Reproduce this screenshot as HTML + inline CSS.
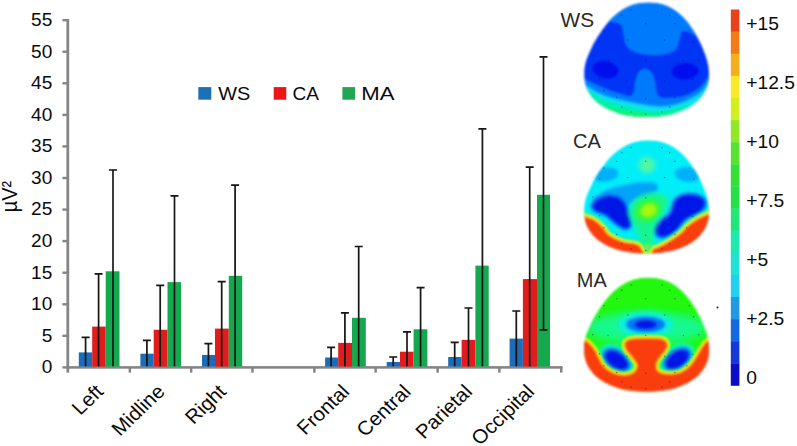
<!DOCTYPE html>
<html><head><meta charset="utf-8"><title>chart</title>
<style>html,body{margin:0;padding:0;background:#fff;}svg{display:block}text{font-family:"Liberation Sans",sans-serif;}</style>
</head><body>
<svg width="797" height="446" viewBox="0 0 797 446">
<rect width="797" height="446" fill="#fff"/>
<defs>
<clipPath id="hc"><path d="M1.8,0.0C6.6,0.0 11.8,0.7 16.2,2.0C20.7,3.3 24.7,5.5 28.4,8.0C32.1,10.5 35.5,13.6 38.5,16.8C41.5,20.1 44.1,23.9 46.5,27.5C48.9,31.1 51.0,34.8 52.8,38.5C54.7,42.2 56.4,46.4 57.8,50.0C59.2,53.6 60.2,56.7 61.0,60.0C61.8,63.3 62.2,66.8 62.3,70.0C62.4,73.2 62.2,76.0 61.6,79.0C61.0,82.0 60.2,84.9 58.5,88.0C56.8,91.1 54.4,94.7 51.5,97.5C48.6,100.3 45.0,102.8 41.0,105.0C37.0,107.2 32.2,109.1 27.5,110.5C22.8,111.9 17.6,112.7 13.0,113.3C8.4,113.9 4.3,114.0 0.0,114.0C-4.3,114.0 -8.4,113.9 -13.0,113.3C-17.6,112.7 -22.8,111.9 -27.5,110.5C-32.2,109.1 -37.0,107.2 -41.0,105.0C-45.0,102.8 -48.6,100.3 -51.5,97.5C-54.4,94.7 -56.8,91.1 -58.5,88.0C-60.2,84.9 -61.0,82.0 -61.6,79.0C-62.2,76.0 -62.4,73.2 -62.3,70.0C-62.2,66.8 -61.9,63.3 -61.0,60.0C-60.1,56.7 -58.8,53.6 -57.2,50.0C-55.6,46.4 -53.7,42.2 -51.6,38.5C-49.4,34.8 -47.1,31.1 -44.5,27.5C-41.9,23.9 -39.1,20.1 -35.9,16.8C-32.7,13.6 -29.1,10.5 -25.2,8.0C-21.4,5.5 -17.3,3.3 -12.8,2.0C-8.3,0.7 -3.0,0.0 1.8,0.0Z"/></clipPath>
<filter id="b05" x="-20%" y="-20%" width="140%" height="140%"><feGaussianBlur stdDeviation="0.5"/></filter>
<filter id="b1" x="-30%" y="-30%" width="160%" height="160%"><feGaussianBlur stdDeviation="1"/></filter>
<filter id="b15" x="-30%" y="-30%" width="160%" height="160%"><feGaussianBlur stdDeviation="1.5"/></filter>
<filter id="b2" x="-40%" y="-40%" width="180%" height="180%"><feGaussianBlur stdDeviation="2"/></filter>
<filter id="b3" x="-50%" y="-50%" width="200%" height="200%"><feGaussianBlur stdDeviation="3"/></filter>
<filter id="b4" x="-50%" y="-50%" width="200%" height="200%"><feGaussianBlur stdDeviation="4.5"/></filter>
<filter id="soft" x="-5%" y="-5%" width="110%" height="110%"><feGaussianBlur stdDeviation="0.6"/></filter>
<filter id="hsoft" x="-5%" y="-5%" width="110%" height="110%"><feGaussianBlur stdDeviation="0.9"/></filter>
</defs>
<g fill="#858585">
<rect x="66.4" y="19" width="2.8" height="353.6"/>
<rect x="66.4" y="366.1" width="496.2" height="2.6"/>
<rect x="62.4" y="366.2" width="5" height="2.4"/>
<rect x="62.4" y="334.6" width="5" height="2.4"/>
<rect x="62.4" y="303.1" width="5" height="2.4"/>
<rect x="62.4" y="271.5" width="5" height="2.4"/>
<rect x="62.4" y="239.9" width="5" height="2.4"/>
<rect x="62.4" y="208.4" width="5" height="2.4"/>
<rect x="62.4" y="176.8" width="5" height="2.4"/>
<rect x="62.4" y="145.2" width="5" height="2.4"/>
<rect x="62.4" y="113.7" width="5" height="2.4"/>
<rect x="62.4" y="82.1" width="5" height="2.4"/>
<rect x="62.4" y="50.5" width="5" height="2.4"/>
<rect x="62.4" y="19.0" width="5" height="2.4"/>
<rect x="128.6" y="367" width="2.5" height="5.6"/>
<rect x="189.9" y="367" width="2.5" height="5.6"/>
<rect x="251.2" y="367" width="2.5" height="5.6"/>
<rect x="313.1" y="367" width="2.5" height="5.6"/>
<rect x="374.4" y="367" width="2.5" height="5.6"/>
<rect x="436.4" y="367" width="2.5" height="5.6"/>
<rect x="498.1" y="367" width="2.5" height="5.6"/>
<rect x="560.0" y="367" width="2.5" height="5.6"/>
</g>
<g font-size="18" fill="#0a0a0a" text-anchor="end">
<text transform="translate(52.3,373.2) scale(1.06,1)" x="0" y="0">0</text>
<text transform="translate(52.3,341.6) scale(1.06,1)" x="0" y="0">5</text>
<text transform="translate(52.3,310.1) scale(1.06,1)" x="0" y="0">10</text>
<text transform="translate(52.3,278.5) scale(1.06,1)" x="0" y="0">15</text>
<text transform="translate(52.3,246.9) scale(1.06,1)" x="0" y="0">20</text>
<text transform="translate(52.3,215.4) scale(1.06,1)" x="0" y="0">25</text>
<text transform="translate(52.3,183.8) scale(1.06,1)" x="0" y="0">30</text>
<text transform="translate(52.3,152.2) scale(1.06,1)" x="0" y="0">35</text>
<text transform="translate(52.3,120.7) scale(1.06,1)" x="0" y="0">40</text>
<text transform="translate(52.3,89.1) scale(1.06,1)" x="0" y="0">45</text>
<text transform="translate(52.3,57.5) scale(1.06,1)" x="0" y="0">50</text>
<text transform="translate(52.3,26.0) scale(1.06,1)" x="0" y="0">55</text>
</g>
<text transform="translate(17.1,212.3) rotate(-90) scale(1.02,1.11)" font-size="19.5" fill="#0a0a0a">µV²</text>
<g filter="url(#soft)">
<rect x="78.8" y="352.4" width="13.4" height="14.2" fill="#1c6cb8"/>
<rect x="92.2" y="326.6" width="13.5" height="40.0" fill="#e01a1a"/>
<rect x="105.7" y="271.3" width="13.8" height="95.3" fill="#16a850"/>
<rect x="140.4" y="353.7" width="13.3" height="12.9" fill="#1c6cb8"/>
<rect x="153.7" y="329.8" width="13.8" height="36.8" fill="#e01a1a"/>
<rect x="167.5" y="282.1" width="13.6" height="84.5" fill="#16a850"/>
<rect x="202.0" y="355.0" width="13.0" height="11.6" fill="#1c6cb8"/>
<rect x="215.0" y="328.6" width="13.8" height="38.0" fill="#e01a1a"/>
<rect x="228.8" y="275.8" width="13.4" height="90.8" fill="#16a850"/>
<rect x="325.1" y="357.5" width="13.1" height="9.1" fill="#1c6cb8"/>
<rect x="338.2" y="342.9" width="13.8" height="23.7" fill="#e01a1a"/>
<rect x="352.0" y="317.8" width="13.8" height="48.8" fill="#16a850"/>
<rect x="386.7" y="362.0" width="13.3" height="4.6" fill="#1c6cb8"/>
<rect x="400.0" y="351.7" width="13.6" height="14.9" fill="#e01a1a"/>
<rect x="413.6" y="329.3" width="13.8" height="37.3" fill="#16a850"/>
<rect x="448.2" y="357.0" width="13.4" height="9.6" fill="#1c6cb8"/>
<rect x="461.6" y="339.9" width="13.8" height="26.7" fill="#e01a1a"/>
<rect x="475.4" y="265.6" width="13.3" height="101.0" fill="#16a850"/>
<rect x="509.6" y="338.6" width="13.3" height="28.0" fill="#1c6cb8"/>
<rect x="522.9" y="279.1" width="14.1" height="87.5" fill="#e01a1a"/>
<rect x="537.0" y="194.8" width="13.0" height="171.8" fill="#16a850"/>
</g>
<g stroke="#151515" stroke-width="1.7" fill="none" filter="url(#soft)">
<path d="M81.6,337.4H89.6M85.6,337.4V366.3"/>
<path d="M94.6,273.8H102.6M98.6,273.8V366.3"/>
<path d="M109.0,170.0H117.0M113.0,170.0V366.3"/>
<path d="M142.9,340.4H150.9M146.9,340.4V366.3"/>
<path d="M156.2,285.4H164.2M160.2,285.4V366.3"/>
<path d="M170.5,195.9H178.5M174.5,195.9V366.3"/>
<path d="M204.4,343.7H212.4M208.4,343.7V366.3"/>
<path d="M217.7,281.6H225.7M221.7,281.6V366.3"/>
<path d="M231.1,185.1H239.1M235.1,185.1V366.3"/>
<path d="M327.1,347.4H335.1M331.1,347.4V366.3"/>
<path d="M340.9,312.8H348.9M344.9,312.8V366.3"/>
<path d="M354.7,246.5H362.7M358.7,246.5V366.3"/>
<path d="M389.2,357.0H397.2M393.2,357.0V366.3"/>
<path d="M403.0,331.8H411.0M407.0,331.8V366.3"/>
<path d="M416.6,287.6H424.6M420.6,287.6V366.3"/>
<path d="M450.7,342.4H458.7M454.7,342.4V366.3"/>
<path d="M464.5,308.0H472.5M468.5,308.0V366.3"/>
<path d="M478.4,128.8H486.4M482.4,128.8V366.3"/>
<path d="M512.3,311.0H520.3M516.3,311.0V366.3"/>
<path d="M525.7,167.2H533.7M529.7,167.2V366.3"/>
<path d="M539.5,56.9H547.5M543.5,56.9V329.8M539.5,329.8H547.5"/>
</g>
<g font-size="19.7" fill="#0a0a0a" text-anchor="end">
<text transform="translate(104.6,392.8) scale(1.045,1) rotate(-45)">Left</text>
<text transform="translate(166.0,392.8) scale(1.045,1) rotate(-45)">Midline</text>
<text transform="translate(227.4,392.8) scale(1.045,1) rotate(-45)">Right</text>
<text transform="translate(350.6,392.8) scale(1.045,1) rotate(-45)">Frontal</text>
<text transform="translate(412.0,392.8) scale(1.045,1) rotate(-45)">Central</text>
<text transform="translate(473.4,392.8) scale(1.045,1) rotate(-45)">Parietal</text>
<text transform="translate(535.6,392.8) scale(1.045,1) rotate(-45)">Occipital</text>
</g>
<g filter="url(#soft)">
<rect x="198.3" y="87.1" width="13" height="12.6" fill="#1f70b8"/>
<rect x="273.7" y="87.1" width="12.6" height="12.6" fill="#ec1616"/>
<rect x="342.4" y="87.1" width="12.7" height="12.6" fill="#22a653"/>
</g>
<g font-size="18.8" fill="#0a0a0a">
<text x="218.2" y="100.3" textLength="32.0" lengthAdjust="spacingAndGlyphs">WS</text>
<text x="292.6" y="100.3" textLength="26.4" lengthAdjust="spacingAndGlyphs">CA</text>
<text x="361.3" y="100.3" textLength="33.2" lengthAdjust="spacingAndGlyphs">MA</text>
</g>
<g font-size="20" fill="#2a2a2a">
<text x="560.5" y="27.2" textLength="33.6" lengthAdjust="spacingAndGlyphs">WS</text>
<text x="573" y="148.2">CA</text>
<text x="576.8" y="287.3">MA</text>
</g>
<g transform="translate(646.6,2.6) scale(1.0008,1.0026)">
<g filter="url(#hsoft)"><g clip-path="url(#hc)">
<rect x="-70" y="-5" width="140" height="125" fill="#0434f6"/>
<g filter="url(#b05)">
<path d="M-48.0,-8.0C-28.3,-12.3 47.0,-15.7 66.0,-8.0C85.0,-0.3 68.5,31.0 66.0,38.0C63.5,45.0 54.9,35.4 51.0,34.0C47.1,32.6 45.2,30.4 42.6,29.5C40.0,28.6 37.1,27.3 35.5,28.5C33.9,29.7 33.9,33.5 32.8,36.6C31.7,39.7 31.4,44.5 29.0,46.9C26.6,49.3 23.2,50.4 18.7,51.2C14.1,52.1 7.1,52.4 1.7,52.0C-3.7,51.6 -10.0,50.3 -13.7,48.6C-17.4,46.9 -18.9,44.6 -20.5,41.8C-22.1,38.9 -22.2,34.8 -23.1,31.5C-24.0,28.2 -23.1,24.1 -25.6,22.0C-28.2,19.9 -34.0,19.4 -38.4,18.7C-42.8,18.0 -50.4,22.4 -52.0,18.0C-53.6,13.6 -67.7,-3.7 -48.0,-8.0Z" fill="#047afc"/>
<ellipse cx="-41" cy="67" rx="13" ry="8.8" fill="#020cee" transform="rotate(10 -41 67)"/>
<ellipse cx="38.5" cy="68.5" rx="13.5" ry="8.4" fill="#020cee" transform="rotate(-4 38.5 68.5)"/>
<path d="M-66.0,72.0C-64.7,63.8 -64.7,73.9 -62.0,75.6C-59.3,77.3 -54.3,79.9 -50.0,82.0C-45.7,84.1 -40.0,86.5 -36.0,88.0C-32.0,89.5 -29.5,90.1 -26.3,91.0C-23.1,91.9 -19.3,93.8 -17.0,93.5C-14.7,93.2 -13.4,91.2 -12.5,89.0C-11.6,86.8 -12.2,83.2 -11.5,80.0C-10.8,76.8 -9.6,72.3 -8.0,70.0C-6.4,67.7 -4.0,66.2 -1.8,66.2C0.4,66.2 3.3,67.7 5.0,70.0C6.7,72.3 7.7,76.7 8.5,80.0C9.3,83.3 9.1,87.6 10.0,90.0C10.9,92.4 12.0,93.6 14.0,94.5C16.0,95.4 17.9,95.5 22.1,95.2C26.3,94.9 34.1,94.4 39.2,92.7C44.3,91.0 49.4,87.8 52.9,85.0C56.4,82.2 58.0,78.6 60.5,75.6C63.0,72.6 66.4,58.8 68.0,67.0C69.6,75.2 93.0,115.3 70.0,125.0C47.0,134.7 -47.3,133.8 -70.0,125.0C-92.7,116.2 -67.3,80.2 -66.0,72.0Z" fill="#047afc"/>
</g>
<path d="M-68.0,76.0C-66.7,68.7 -64.7,79.0 -62.0,81.0C-59.3,83.0 -56.0,85.8 -52.0,88.0C-48.0,90.2 -42.3,92.5 -38.0,94.0C-33.7,95.5 -30.6,95.8 -26.3,96.8C-22.0,97.8 -16.5,99.1 -12.0,100.0C-7.5,100.9 -4.5,101.7 0.6,102.3C5.7,102.9 12.8,104.0 18.7,103.5C24.6,103.0 30.1,101.7 35.8,99.5C41.5,97.3 48.8,93.5 52.9,90.5C57.0,87.5 58.0,84.3 60.5,81.2C63.0,78.1 66.4,64.7 68.0,72.0C69.6,79.3 93.0,116.2 70.0,125.0C47.0,133.8 -47.0,133.2 -70.0,125.0C-93.0,116.8 -69.3,83.3 -68.0,76.0Z" fill="#10e0f8" filter="url(#b1)"/>
<path d="M-68.0,82.0C-66.3,75.6 -63.0,84.7 -60.0,86.5C-57.0,88.3 -53.7,91.0 -50.0,93.0C-46.3,95.0 -42.0,97.1 -38.0,98.5C-34.0,99.9 -30.6,100.4 -26.3,101.5C-22.0,102.6 -16.5,104.0 -12.0,105.0C-7.5,106.0 -3.7,107.0 0.6,107.5C4.9,108.0 9.4,108.3 14.0,108.0C18.6,107.7 23.7,106.5 28.0,105.5C32.3,104.5 36.3,102.2 40.0,102.0C43.7,101.8 50.0,100.2 50.0,104.0C50.0,107.8 60.0,121.5 40.0,125.0C20.0,128.5 -52.0,132.2 -70.0,125.0C-88.0,117.8 -69.7,88.4 -68.0,82.0Z" fill="#04f0b0" filter="url(#b1)"/>
<path d="M-66.0,90.0C-63.7,85.0 -59.3,93.1 -56.0,95.0C-52.7,96.9 -49.7,99.7 -46.0,101.5C-42.3,103.3 -38.0,104.8 -34.0,106.0C-30.0,107.2 -26.3,107.8 -22.0,108.5C-17.7,109.2 -12.7,110.0 -8.0,110.5C-3.3,111.0 1.7,111.7 6.0,111.8C10.3,111.9 14.3,111.7 18.0,111.3C21.7,110.9 25.0,110.1 28.0,109.6C31.0,109.0 33.3,107.4 36.0,108.0C38.7,108.6 45.0,110.2 44.0,113.0C43.0,115.8 49.0,123.0 30.0,125.0C11.0,127.0 -54.0,130.8 -70.0,125.0C-86.0,119.2 -68.3,95.0 -66.0,90.0Z" fill="#14f244" fill-opacity="0.85" filter="url(#b15)"/>
</g></g>
<g fill="#001040" fill-opacity="0.45"><circle cx="-15.4" cy="7.5" r="0.75"/><circle cx="15.4" cy="7.5" r="0.75"/><circle cx="-24.7" cy="12.6" r="0.75"/><circle cx="23.0" cy="12.6" r="0.75"/><circle cx="-29.9" cy="21.1" r="0.75"/><circle cx="-0.9" cy="21.1" r="0.75"/><circle cx="28.2" cy="21.1" r="0.75"/><circle cx="-42.7" cy="28.0" r="0.75"/><circle cx="42.7" cy="28.0" r="0.75"/><circle cx="-46.9" cy="39.0" r="0.75"/><circle cx="-18.8" cy="37.4" r="0.75"/><circle cx="17.9" cy="37.4" r="0.75"/><circle cx="46.9" cy="39.0" r="0.75"/><circle cx="-53.8" cy="57.0" r="0.75"/><circle cx="-38.4" cy="57.8" r="0.75"/><circle cx="-0.9" cy="57.8" r="0.75"/><circle cx="36.7" cy="57.8" r="0.75"/><circle cx="52.0" cy="57.0" r="0.75"/><circle cx="-46.9" cy="76.0" r="0.75"/><circle cx="-19.6" cy="78.5" r="0.75"/><circle cx="17.9" cy="78.5" r="0.75"/><circle cx="46.0" cy="76.8" r="0.75"/><circle cx="-42.7" cy="87.9" r="0.75"/><circle cx="-29.9" cy="94.7" r="0.75"/><circle cx="-0.9" cy="95.6" r="0.75"/><circle cx="28.2" cy="94.7" r="0.75"/><circle cx="40.0" cy="87.9" r="0.75"/><circle cx="-24.7" cy="104.1" r="0.75"/><circle cx="23.0" cy="104.1" r="0.75"/><circle cx="-15.4" cy="109.2" r="0.75"/><circle cx="-0.9" cy="111.0" r="0.75"/><circle cx="15.4" cy="109.2" r="0.75"/></g>
</g>
<g transform="translate(646.6,140.2) scale(1.0024,0.9947)">
<g filter="url(#hsoft)"><g clip-path="url(#hc)">
<rect x="-70" y="-5" width="140" height="125" fill="#04eef8"/>
<ellipse cx="0.5" cy="25" rx="8" ry="8" fill="#50f8a0" filter="url(#b2)"/>
<g filter="url(#b1)">
<ellipse cx="-41" cy="34.5" rx="12.8" ry="7.2" fill="#04b0f8" transform="rotate(-8 -41 34.5)"/>
<ellipse cx="40.5" cy="34.5" rx="12.5" ry="7.4" fill="#04b0f8" transform="rotate(8 40.5 34.5)"/>
<path d="M-54.0,60.0C-54.0,57.3 -45.3,52.5 -40.0,50.0C-34.7,47.5 -28.0,46.3 -22.0,45.0C-16.0,43.7 -9.2,42.2 -4.0,42.0C1.2,41.8 6.5,42.2 9.0,43.5C11.5,44.8 12.2,48.1 11.0,50.0C9.8,51.9 5.5,53.5 2.0,55.0C-1.5,56.5 -6.3,57.2 -10.0,59.0C-13.7,60.8 -15.0,64.8 -20.0,66.0C-25.0,67.2 -34.3,67.0 -40.0,66.0C-45.7,65.0 -54.0,62.7 -54.0,60.0Z" fill="#04a4f8"/>
</g>
<path d="M-53.0,63.6C-51.3,61.3 -45.3,57.6 -41.0,56.8C-36.7,55.9 -30.8,56.8 -27.4,58.5C-24.0,60.2 -22.2,63.9 -20.6,67.0C-19.0,70.1 -18.2,73.9 -17.5,77.0C-16.8,80.1 -15.6,83.6 -16.3,85.5C-17.1,87.4 -19.5,89.0 -22.0,88.5C-24.5,88.0 -28.3,84.8 -31.5,82.5C-34.7,80.2 -37.7,76.5 -41.0,74.5C-44.3,72.5 -49.2,72.2 -51.2,70.4C-53.2,68.6 -54.7,65.9 -53.0,63.6Z" fill="#0460f4" stroke="#0478f6" stroke-width="4.5" stroke-linejoin="round" filter="url(#b1)"/>
<path d="M29.0,60.2C31.6,57.1 35.2,55.6 39.2,55.0C43.2,54.4 49.8,55.4 52.9,56.8C56.0,58.2 58.0,61.1 58.0,63.6C58.0,66.2 56.0,69.5 52.9,72.1C49.8,74.7 42.9,76.2 39.2,79.0C35.5,81.8 33.5,86.4 30.7,89.2C27.8,92.0 25.2,94.9 22.1,96.0C19.0,97.1 14.2,97.1 11.9,96.0C9.6,94.9 8.2,91.5 8.5,89.2C8.8,86.9 11.0,84.9 13.6,82.3C16.1,79.7 21.2,77.5 23.8,73.8C26.4,70.1 26.4,63.3 29.0,60.2Z" fill="#0460f4" stroke="#0478f6" stroke-width="4.5" stroke-linejoin="round" filter="url(#b1)"/>
<path d="M-53.0,63.6C-51.3,61.3 -45.3,57.6 -41.0,56.8C-36.7,55.9 -30.8,56.8 -27.4,58.5C-24.0,60.2 -22.2,63.9 -20.6,67.0C-19.0,70.1 -18.2,73.9 -17.5,77.0C-16.8,80.1 -15.6,83.6 -16.3,85.5C-17.1,87.4 -19.5,89.0 -22.0,88.5C-24.5,88.0 -28.3,84.8 -31.5,82.5C-34.7,80.2 -37.7,76.5 -41.0,74.5C-44.3,72.5 -49.2,72.2 -51.2,70.4C-53.2,68.6 -54.7,65.9 -53.0,63.6Z" fill="#0414e6" stroke="#0414e6" stroke-width="0.1" filter="url(#b1)"/>
<path d="M29.0,60.2C31.6,57.1 35.2,55.6 39.2,55.0C43.2,54.4 49.8,55.4 52.9,56.8C56.0,58.2 58.0,61.1 58.0,63.6C58.0,66.2 56.0,69.5 52.9,72.1C49.8,74.7 42.9,76.2 39.2,79.0C35.5,81.8 33.5,86.4 30.7,89.2C27.8,92.0 25.2,94.9 22.1,96.0C19.0,97.1 14.2,97.1 11.9,96.0C9.6,94.9 8.2,91.5 8.5,89.2C8.8,86.9 11.0,84.9 13.6,82.3C16.1,79.7 21.2,77.5 23.8,73.8C26.4,70.1 26.4,63.3 29.0,60.2Z" fill="#0414e6" stroke="#0414e6" stroke-width="0.1" filter="url(#b1)"/>
<path d="M-12.0,60.0C-8.3,56.7 -1.3,53.7 4.0,53.0C9.3,52.3 17.5,53.2 20.0,56.0C22.5,58.8 20.7,65.3 19.0,70.0C17.3,74.7 12.0,79.0 10.0,84.0C8.0,89.0 7.2,94.3 7.0,100.0C6.8,105.7 11.7,115.0 9.0,118.0C6.3,121.0 -6.3,121.0 -9.0,118.0C-11.7,115.0 -6.3,105.3 -7.0,100.0C-7.7,94.7 -11.2,90.5 -13.0,86.0C-14.8,81.5 -18.2,77.3 -18.0,73.0C-17.8,68.7 -15.7,63.3 -12.0,60.0Z" fill="#18f490" filter="url(#b2)"/>
<ellipse cx="1.5" cy="70.5" rx="13.5" ry="11" fill="#30f838" filter="url(#b15)" transform="rotate(-25 1.5 70.5)"/>
<ellipse cx="2" cy="70.5" rx="8" ry="6.3" fill="#a8f810" filter="url(#b15)" transform="rotate(-25 2 70.5)"/>
<ellipse cx="0.8" cy="110.5" rx="5.5" ry="5" fill="#a0f420" filter="url(#b15)"/>
<path d="M-75.0,69.0C-72.9,60.9 -66.0,74.6 -62.3,76.4C-58.6,78.2 -55.9,78.2 -52.9,80.0C-49.9,81.8 -46.9,84.4 -44.4,87.0C-41.9,89.6 -41.0,93.0 -37.6,95.5C-34.2,98.0 -28.2,100.8 -23.9,102.3C-19.6,103.8 -15.1,103.2 -12.0,104.3C-8.9,105.4 -6.8,105.5 -5.5,109.0C-4.2,112.5 7.6,122.3 -4.0,125.0C-15.6,127.7 -63.2,134.3 -75.0,125.0C-86.8,115.7 -77.1,77.1 -75.0,69.0Z" fill="none" stroke="#20f470" stroke-width="9" filter="url(#b1)"/>
<path d="M75.0,67.0C72.9,58.5 65.9,72.1 62.2,74.0C58.5,75.9 56.2,76.4 52.9,78.3C49.6,80.2 45.7,82.7 42.6,85.3C39.5,87.9 37.5,91.0 34.1,93.8C30.7,96.6 25.9,99.9 22.1,102.3C18.3,104.7 14.1,106.6 11.5,108.0C8.9,109.4 7.5,107.7 6.5,110.5C5.5,113.3 -5.9,122.6 5.5,125.0C16.9,127.4 63.4,134.7 75.0,125.0C86.6,115.3 77.1,75.5 75.0,67.0Z" fill="none" stroke="#20f470" stroke-width="9" filter="url(#b1)"/>
<path d="M-75.0,69.0C-72.9,60.9 -66.0,74.6 -62.3,76.4C-58.6,78.2 -55.9,78.2 -52.9,80.0C-49.9,81.8 -46.9,84.4 -44.4,87.0C-41.9,89.6 -41.0,93.0 -37.6,95.5C-34.2,98.0 -28.2,100.8 -23.9,102.3C-19.6,103.8 -15.1,103.2 -12.0,104.3C-8.9,105.4 -6.8,105.5 -5.5,109.0C-4.2,112.5 7.6,122.3 -4.0,125.0C-15.6,127.7 -63.2,134.3 -75.0,125.0C-86.8,115.7 -77.1,77.1 -75.0,69.0Z" fill="#fa3e08" stroke="#f8f010" stroke-width="4.4" filter="url(#b05)"/>
<path d="M-75.0,69.0C-72.9,60.9 -66.0,74.6 -62.3,76.4C-58.6,78.2 -55.9,78.2 -52.9,80.0C-49.9,81.8 -46.9,84.4 -44.4,87.0C-41.9,89.6 -41.0,93.0 -37.6,95.5C-34.2,98.0 -28.2,100.8 -23.9,102.3C-19.6,103.8 -15.1,103.2 -12.0,104.3C-8.9,105.4 -6.8,105.5 -5.5,109.0C-4.2,112.5 7.6,122.3 -4.0,125.0C-15.6,127.7 -63.2,134.3 -75.0,125.0C-86.8,115.7 -77.1,77.1 -75.0,69.0Z" fill="#fa3e08" stroke="#fa9010" stroke-width="1.4" filter="url(#b05)"/>
<path d="M75.0,67.0C72.9,58.5 65.9,72.1 62.2,74.0C58.5,75.9 56.2,76.4 52.9,78.3C49.6,80.2 45.7,82.7 42.6,85.3C39.5,87.9 37.5,91.0 34.1,93.8C30.7,96.6 25.9,99.9 22.1,102.3C18.3,104.7 14.1,106.6 11.5,108.0C8.9,109.4 7.5,107.7 6.5,110.5C5.5,113.3 -5.9,122.6 5.5,125.0C16.9,127.4 63.4,134.7 75.0,125.0C86.6,115.3 77.1,75.5 75.0,67.0Z" fill="#fa3e08" stroke="#f8f010" stroke-width="4.4" filter="url(#b05)"/>
<path d="M75.0,67.0C72.9,58.5 65.9,72.1 62.2,74.0C58.5,75.9 56.2,76.4 52.9,78.3C49.6,80.2 45.7,82.7 42.6,85.3C39.5,87.9 37.5,91.0 34.1,93.8C30.7,96.6 25.9,99.9 22.1,102.3C18.3,104.7 14.1,106.6 11.5,108.0C8.9,109.4 7.5,107.7 6.5,110.5C5.5,113.3 -5.9,122.6 5.5,125.0C16.9,127.4 63.4,134.7 75.0,125.0C86.6,115.3 77.1,75.5 75.0,67.0Z" fill="#fa3e08" stroke="#fa9010" stroke-width="1.4" filter="url(#b05)"/>
</g></g>
<g fill="#001040" fill-opacity="0.45"><circle cx="-15.4" cy="7.5" r="0.75"/><circle cx="15.4" cy="7.5" r="0.75"/><circle cx="-24.7" cy="12.6" r="0.75"/><circle cx="23.0" cy="12.6" r="0.75"/><circle cx="-29.9" cy="21.1" r="0.75"/><circle cx="-0.9" cy="21.1" r="0.75"/><circle cx="28.2" cy="21.1" r="0.75"/><circle cx="-42.7" cy="28.0" r="0.75"/><circle cx="42.7" cy="28.0" r="0.75"/><circle cx="-46.9" cy="39.0" r="0.75"/><circle cx="-18.8" cy="37.4" r="0.75"/><circle cx="17.9" cy="37.4" r="0.75"/><circle cx="46.9" cy="39.0" r="0.75"/><circle cx="-53.8" cy="57.0" r="0.75"/><circle cx="-38.4" cy="57.8" r="0.75"/><circle cx="-0.9" cy="57.8" r="0.75"/><circle cx="36.7" cy="57.8" r="0.75"/><circle cx="52.0" cy="57.0" r="0.75"/><circle cx="-46.9" cy="76.0" r="0.75"/><circle cx="-19.6" cy="78.5" r="0.75"/><circle cx="17.9" cy="78.5" r="0.75"/><circle cx="46.0" cy="76.8" r="0.75"/><circle cx="-42.7" cy="87.9" r="0.75"/><circle cx="-29.9" cy="94.7" r="0.75"/><circle cx="-0.9" cy="95.6" r="0.75"/><circle cx="28.2" cy="94.7" r="0.75"/><circle cx="40.0" cy="87.9" r="0.75"/><circle cx="-24.7" cy="104.1" r="0.75"/><circle cx="23.0" cy="104.1" r="0.75"/><circle cx="-15.4" cy="109.2" r="0.75"/><circle cx="-0.9" cy="111.0" r="0.75"/><circle cx="15.4" cy="109.2" r="0.75"/></g>
</g>
<g transform="translate(646.6,277.6) scale(1.0032,1.0018)">
<g filter="url(#hsoft)"><g clip-path="url(#hc)">
<rect x="-70" y="-5" width="140" height="125" fill="#22f80a"/>
<ellipse cx="0" cy="50" rx="60" ry="16" fill="#18f890" filter="url(#b4)"/>
<ellipse cx="-1" cy="47" rx="27" ry="13" fill="#08f0e0" filter="url(#b2)"/>
<ellipse cx="-1" cy="46.8" rx="19.5" ry="8" fill="#0478f8" filter="url(#b1)"/>
<ellipse cx="-1" cy="46.8" rx="11" ry="4.6" fill="#0414e6" filter="url(#b1)"/>
<g transform="rotate(35 -30.0 82.5)">
<ellipse cx="-30.0" cy="82.5" rx="20" ry="14" fill="#08f4c8" filter="url(#b2)"/>
<ellipse cx="-30.0" cy="82.5" rx="16" ry="10.5" fill="#0488f8" filter="url(#b1)"/>
<ellipse cx="-30.0" cy="82.5" rx="13" ry="8" fill="#0414e6" filter="url(#b1)"/>
</g>
<g transform="rotate(-35 30.6 81.8)">
<ellipse cx="30.6" cy="81.8" rx="20" ry="14" fill="#08f4c8" filter="url(#b2)"/>
<ellipse cx="30.6" cy="81.8" rx="16" ry="10.5" fill="#0488f8" filter="url(#b1)"/>
<ellipse cx="30.6" cy="81.8" rx="13" ry="8" fill="#0414e6" filter="url(#b1)"/>
</g>
<path d="M-75.0,58.0C-72.9,47.5 -65.4,60.9 -62.3,62.3C-59.2,63.7 -58.2,64.8 -56.4,66.6C-54.5,68.4 -52.6,71.1 -51.2,73.4C-49.8,75.7 -49.2,77.6 -47.8,80.2C-46.4,82.8 -45.2,86.2 -42.7,88.8C-40.2,91.4 -36.2,94.2 -32.5,95.6C-28.8,97.0 -23.9,97.6 -20.5,97.3C-17.1,97.0 -13.8,95.6 -12.0,93.9C-10.2,92.2 -9.1,89.4 -9.4,87.1C-9.7,84.8 -11.8,82.8 -13.7,80.2C-15.5,77.6 -19.2,74.2 -20.5,71.7C-21.8,69.2 -22.2,66.6 -21.4,64.9C-20.5,63.2 -19.0,62.2 -15.4,61.5C-11.8,60.8 -5.1,60.6 0.0,60.6C5.1,60.6 11.9,60.6 15.3,61.5C18.7,62.4 19.8,63.9 20.4,65.7C21.0,67.5 20.1,70.0 18.7,72.6C17.3,75.2 13.5,78.5 11.9,81.1C10.3,83.6 9.3,85.8 9.3,87.9C9.3,90.0 9.8,92.5 11.9,93.9C14.0,95.3 18.4,96.3 22.1,96.4C25.8,96.5 30.4,96.2 34.1,94.7C37.8,93.2 41.5,90.1 44.3,87.1C47.1,84.1 49.1,79.9 51.1,76.8C53.1,73.7 54.4,70.7 56.3,68.3C58.1,65.9 59.1,64.0 62.2,62.3C65.3,60.6 72.9,47.5 75.0,58.0C77.1,68.5 100.0,113.8 75.0,125.0C50.0,136.2 -50.0,136.2 -75.0,125.0C-100.0,113.8 -77.1,68.5 -75.0,58.0Z" fill="none" stroke="#28f830" stroke-width="8" filter="url(#b1)"/>
<path d="M-75.0,58.0C-72.9,47.5 -65.4,60.9 -62.3,62.3C-59.2,63.7 -58.2,64.8 -56.4,66.6C-54.5,68.4 -52.6,71.1 -51.2,73.4C-49.8,75.7 -49.2,77.6 -47.8,80.2C-46.4,82.8 -45.2,86.2 -42.7,88.8C-40.2,91.4 -36.2,94.2 -32.5,95.6C-28.8,97.0 -23.9,97.6 -20.5,97.3C-17.1,97.0 -13.8,95.6 -12.0,93.9C-10.2,92.2 -9.1,89.4 -9.4,87.1C-9.7,84.8 -11.8,82.8 -13.7,80.2C-15.5,77.6 -19.2,74.2 -20.5,71.7C-21.8,69.2 -22.2,66.6 -21.4,64.9C-20.5,63.2 -19.0,62.2 -15.4,61.5C-11.8,60.8 -5.1,60.6 0.0,60.6C5.1,60.6 11.9,60.6 15.3,61.5C18.7,62.4 19.8,63.9 20.4,65.7C21.0,67.5 20.1,70.0 18.7,72.6C17.3,75.2 13.5,78.5 11.9,81.1C10.3,83.6 9.3,85.8 9.3,87.9C9.3,90.0 9.8,92.5 11.9,93.9C14.0,95.3 18.4,96.3 22.1,96.4C25.8,96.5 30.4,96.2 34.1,94.7C37.8,93.2 41.5,90.1 44.3,87.1C47.1,84.1 49.1,79.9 51.1,76.8C53.1,73.7 54.4,70.7 56.3,68.3C58.1,65.9 59.1,64.0 62.2,62.3C65.3,60.6 72.9,47.5 75.0,58.0C77.1,68.5 100.0,113.8 75.0,125.0C50.0,136.2 -50.0,136.2 -75.0,125.0C-100.0,113.8 -77.1,68.5 -75.0,58.0Z" fill="#fa3e08" stroke="#f8f010" stroke-width="4.4" filter="url(#b05)"/>
<path d="M-75.0,58.0C-72.9,47.5 -65.4,60.9 -62.3,62.3C-59.2,63.7 -58.2,64.8 -56.4,66.6C-54.5,68.4 -52.6,71.1 -51.2,73.4C-49.8,75.7 -49.2,77.6 -47.8,80.2C-46.4,82.8 -45.2,86.2 -42.7,88.8C-40.2,91.4 -36.2,94.2 -32.5,95.6C-28.8,97.0 -23.9,97.6 -20.5,97.3C-17.1,97.0 -13.8,95.6 -12.0,93.9C-10.2,92.2 -9.1,89.4 -9.4,87.1C-9.7,84.8 -11.8,82.8 -13.7,80.2C-15.5,77.6 -19.2,74.2 -20.5,71.7C-21.8,69.2 -22.2,66.6 -21.4,64.9C-20.5,63.2 -19.0,62.2 -15.4,61.5C-11.8,60.8 -5.1,60.6 0.0,60.6C5.1,60.6 11.9,60.6 15.3,61.5C18.7,62.4 19.8,63.9 20.4,65.7C21.0,67.5 20.1,70.0 18.7,72.6C17.3,75.2 13.5,78.5 11.9,81.1C10.3,83.6 9.3,85.8 9.3,87.9C9.3,90.0 9.8,92.5 11.9,93.9C14.0,95.3 18.4,96.3 22.1,96.4C25.8,96.5 30.4,96.2 34.1,94.7C37.8,93.2 41.5,90.1 44.3,87.1C47.1,84.1 49.1,79.9 51.1,76.8C53.1,73.7 54.4,70.7 56.3,68.3C58.1,65.9 59.1,64.0 62.2,62.3C65.3,60.6 72.9,47.5 75.0,58.0C77.1,68.5 100.0,113.8 75.0,125.0C50.0,136.2 -50.0,136.2 -75.0,125.0C-100.0,113.8 -77.1,68.5 -75.0,58.0Z" fill="#fa3e08" stroke="#fa9010" stroke-width="1.4" filter="url(#b05)"/>
</g></g>
<g fill="#001040" fill-opacity="0.45"><circle cx="-15.4" cy="7.5" r="0.75"/><circle cx="15.4" cy="7.5" r="0.75"/><circle cx="-24.7" cy="12.6" r="0.75"/><circle cx="23.0" cy="12.6" r="0.75"/><circle cx="-29.9" cy="21.1" r="0.75"/><circle cx="-0.9" cy="21.1" r="0.75"/><circle cx="28.2" cy="21.1" r="0.75"/><circle cx="-42.7" cy="28.0" r="0.75"/><circle cx="42.7" cy="28.0" r="0.75"/><circle cx="-46.9" cy="39.0" r="0.75"/><circle cx="-18.8" cy="37.4" r="0.75"/><circle cx="17.9" cy="37.4" r="0.75"/><circle cx="46.9" cy="39.0" r="0.75"/><circle cx="-53.8" cy="57.0" r="0.75"/><circle cx="-38.4" cy="57.8" r="0.75"/><circle cx="-0.9" cy="57.8" r="0.75"/><circle cx="36.7" cy="57.8" r="0.75"/><circle cx="52.0" cy="57.0" r="0.75"/><circle cx="-46.9" cy="76.0" r="0.75"/><circle cx="-19.6" cy="78.5" r="0.75"/><circle cx="17.9" cy="78.5" r="0.75"/><circle cx="46.0" cy="76.8" r="0.75"/><circle cx="-42.7" cy="87.9" r="0.75"/><circle cx="-29.9" cy="94.7" r="0.75"/><circle cx="-0.9" cy="95.6" r="0.75"/><circle cx="28.2" cy="94.7" r="0.75"/><circle cx="40.0" cy="87.9" r="0.75"/><circle cx="-24.7" cy="104.1" r="0.75"/><circle cx="23.0" cy="104.1" r="0.75"/><circle cx="-15.4" cy="109.2" r="0.75"/><circle cx="-0.9" cy="111.0" r="0.75"/><circle cx="15.4" cy="109.2" r="0.75"/></g>
</g>
<circle cx="717.5" cy="307.6" r="1" fill="#222"/>
<g filter="url(#soft)">
<rect x="730.8" y="9.50" width="8.6" height="22.42" fill="#e8421a"/>
<rect x="730.8" y="31.62" width="8.6" height="22.42" fill="#f47a18"/>
<rect x="730.8" y="53.74" width="8.6" height="22.42" fill="#f4b01e"/>
<rect x="730.8" y="75.85" width="8.6" height="22.42" fill="#f8ea26"/>
<rect x="730.8" y="97.97" width="8.6" height="22.42" fill="#d2ee22"/>
<rect x="730.8" y="120.09" width="8.6" height="22.42" fill="#92e828"/>
<rect x="730.8" y="142.21" width="8.6" height="22.42" fill="#58e030"/>
<rect x="730.8" y="164.32" width="8.6" height="22.42" fill="#30e038"/>
<rect x="730.8" y="186.44" width="8.6" height="22.42" fill="#28e04a"/>
<rect x="730.8" y="208.56" width="8.6" height="22.42" fill="#20e67a"/>
<rect x="730.8" y="230.68" width="8.6" height="22.42" fill="#20e8b0"/>
<rect x="730.8" y="252.79" width="8.6" height="22.42" fill="#20e2d8"/>
<rect x="730.8" y="274.91" width="8.6" height="22.42" fill="#20d0f0"/>
<rect x="730.8" y="297.03" width="8.6" height="22.42" fill="#209ae2"/>
<rect x="730.8" y="319.15" width="8.6" height="22.42" fill="#1868e0"/>
<rect x="730.8" y="341.26" width="8.6" height="22.42" fill="#1838d8"/>
<rect x="730.8" y="363.38" width="8.6" height="22.42" fill="#1010c8"/>
</g>
<g font-size="18" fill="#0a0a0a">
<text transform="translate(746.2,29.9) scale(1.07,1)">+15</text>
<text transform="translate(746.2,89.0) scale(1.07,1)">+12.5</text>
<text transform="translate(746.2,147.9) scale(1.07,1)">+10</text>
<text transform="translate(746.2,206.9) scale(1.07,1)">+7.5</text>
<text transform="translate(746.2,265.9) scale(1.07,1)">+5</text>
<text transform="translate(746.2,324.9) scale(1.07,1)">+2.5</text>
<text transform="translate(746.2,383.9) scale(1.07,1)">0</text>
</g>
</svg>
</body></html>
